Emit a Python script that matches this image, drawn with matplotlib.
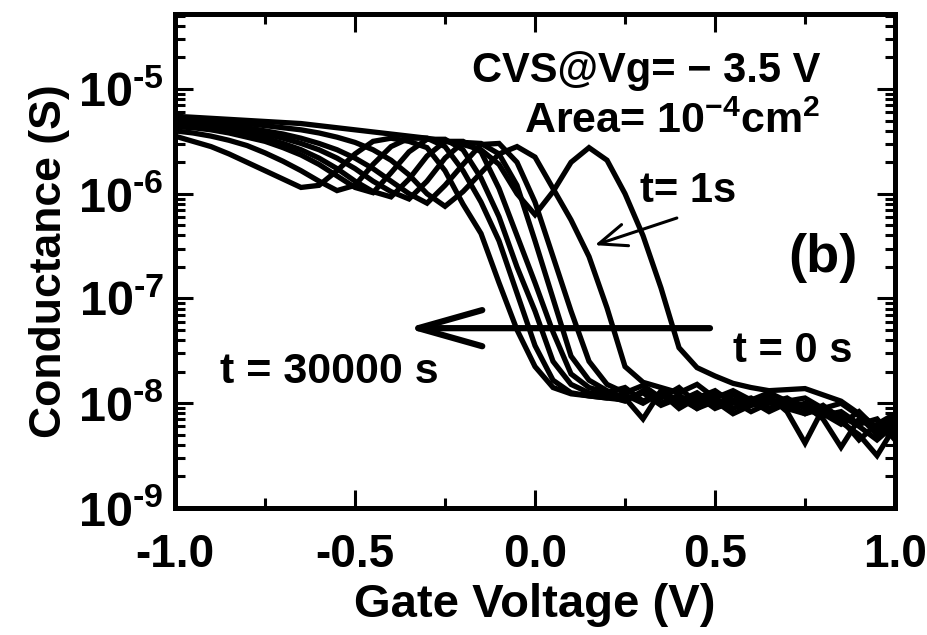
import matplotlib
matplotlib.use("Agg")
import matplotlib.pyplot as plt
import numpy as np
from matplotlib.ticker import LogLocator, NullFormatter, MultipleLocator

# Gate voltage sweep (V)
vg = np.linspace(-1.0, 1.0, 41)

# log10 of conductance (S), one list per stress time
logG_0s = [-5.26, -5.27, -5.28, -5.29, -5.30, -5.31, -5.32, -5.33, -5.35, -5.37,
           -5.39, -5.41, -5.43, -5.45, -5.47, -5.50, -5.53, -5.58, -5.72, -6.00,
           -6.20, -5.98, -5.70, -5.56, -5.68, -6.00, -6.40, -6.90, -7.47, -7.66,
           -7.74, -7.81, -7.85, -7.88, -7.87, -7.86, -7.92, -7.98, -8.10, -8.23,
           -8.15]
logG_1s = [-5.28, -5.29, -5.30, -5.32, -5.33, -5.35, -5.37, -5.39, -5.42, -5.46,
           -5.51, -5.58, -5.68, -5.82, -6.00, -6.12, -5.98, -5.80, -5.62, -5.55,
           -5.65, -5.95, -6.25, -6.60, -7.09, -7.65, -7.80, -7.85, -7.90, -7.82,
           -7.95, -7.88, -7.97, -7.90, -7.98, -7.95, -8.05, -8.00, -8.12, -8.30,
           -8.20]
logG_t2 = [-5.30, -5.31, -5.33, -5.35, -5.37, -5.40, -5.43, -5.47, -5.52, -5.58,
           -5.66, -5.76, -5.88, -6.00, -6.09, -5.92, -5.72, -5.53, -5.52, -5.70,
           -6.08, -6.60, -7.12, -7.60, -7.82, -7.90, -7.83, -7.95, -7.85, -8.00,
           -7.90, -7.97, -8.02, -7.95, -8.05, -8.00, -8.10, -8.20, -8.08, -8.25,
           -8.15]
logG_t3 = [-5.32, -5.33, -5.35, -5.37, -5.40, -5.43, -5.47, -5.52, -5.58, -5.66,
           -5.76, -5.88, -5.98, -6.05, -5.88, -5.66, -5.51, -5.52, -5.62, -5.92,
           -6.45, -7.00, -7.55, -7.78, -7.88, -7.95, -8.15, -7.88, -7.98, -7.90,
           -8.02, -7.92, -8.00, -7.93, -8.08, -8.38, -8.05, -8.12, -8.22, -8.35,
           -8.20]
logG_t4 = [-5.34, -5.35, -5.37, -5.40, -5.43, -5.47, -5.52, -5.58, -5.66, -5.76,
           -5.88, -5.98, -6.03, -5.86, -5.64, -5.50, -5.50, -5.60, -5.95, -6.40,
           -6.85, -7.32, -7.72, -7.85, -7.90, -7.85, -7.98, -7.90, -8.05, -7.95,
           -7.88, -8.00, -7.95, -8.05, -7.98, -8.02, -8.15, -8.42, -8.15, -8.25,
           -8.30]
logG_t5 = [-5.36, -5.37, -5.39, -5.42, -5.46, -5.50, -5.56, -5.63, -5.72, -5.83,
           -5.94, -5.99, -5.80, -5.60, -5.48, -5.48, -5.58, -5.85, -6.22, -6.70,
           -7.12, -7.60, -7.82, -7.90, -7.93, -7.98, -7.88, -8.00, -7.92, -8.05,
           -7.95, -8.05, -7.98, -8.08, -8.00, -8.10, -8.05, -8.18, -8.30, -8.50,
           -8.22]
logG_t6 = [-5.40, -5.42, -5.45, -5.49, -5.54, -5.61, -5.69, -5.78, -5.88, -5.97,
           -5.92, -5.72, -5.55, -5.47, -5.47, -5.55, -5.78, -6.08, -6.45, -6.95,
           -7.45, -7.78, -7.90, -7.93, -7.95, -7.92, -8.00, -7.90, -8.02, -7.93,
           -8.05, -7.98, -8.08, -8.00, -7.95, -8.05, -8.12, -8.08, -8.20, -8.15,
           -8.35]
logG_30000s = [-5.45, -5.50, -5.55, -5.62, -5.70, -5.78, -5.86, -5.94, -5.92, -5.78,
               -5.62, -5.50, -5.47, -5.50, -5.56, -5.78, -6.10, -6.38, -6.85, -7.30,
               -7.65, -7.85, -7.91, -7.93, -7.95, -7.97, -7.90, -8.02, -7.95, -8.05,
               -7.98, -8.10, -8.02, -7.98, -8.05, -8.10, -8.02, -8.15, -8.35, -8.20,
               -8.10]

curves = [logG_0s, logG_1s, logG_t2, logG_t3, logG_t4, logG_t5, logG_t6, logG_30000s]

xticks = [-1.0, -0.5, 0.0, 0.5, 1.0]
xticklabels = ["-1.0", "-0.5", "0.0", "0.5", "1.0"]
yticks = [1e-9, 1e-8, 1e-7, 1e-6, 1e-5]
yticklabels = [r"$10^{\text{-}9}$", r"$10^{\text{-}8}$", r"$10^{\text{-}7}$",
               r"$10^{\text{-}6}$", r"$10^{\text{-}5}$"]

plt.rcParams['font.family'] = 'Liberation Sans'
plt.rcParams['font.weight'] = 'bold'
plt.rcParams['mathtext.fontset'] = 'custom'
plt.rcParams['mathtext.rm'] = 'Liberation Sans:bold'
plt.rcParams['mathtext.it'] = 'Liberation Sans:bold'
plt.rcParams['mathtext.bf'] = 'Liberation Sans:bold'
plt.rcParams['mathtext.default'] = 'rm'

fig = plt.figure(figsize=(9.27, 6.35), dpi=100)
ax = fig.add_axes([0.1888, 0.2, 0.7767, 0.778])

for lg in curves:
    ax.plot(vg, 10 ** np.array(lg), color='black', lw=3.8, solid_joinstyle='miter')

ax.set_yscale('log')
ax.set_xlim(-1.0, 1.0)
ax.set_ylim(1e-9, 5.2e-5)

ax.set_xticks(xticks)
ax.set_xticklabels(xticklabels)
ax.xaxis.set_minor_locator(MultipleLocator(0.25))
ax.set_yticks(yticks)
ax.set_yticklabels(yticklabels)
ax.yaxis.set_minor_locator(LogLocator(base=10, subs=np.arange(2, 10)))
ax.yaxis.set_minor_formatter(NullFormatter())

ax.tick_params(which='both', direction='in', top=True, right=True, width=2.2)
ax.tick_params(which='major', length=13)
ax.tick_params(which='minor', length=7)
ax.tick_params(axis='x', which='major', labelsize=33, pad=18)
ax.tick_params(axis='y', which='major', labelsize=35, pad=8)
for sp in ax.spines.values():
    sp.set_linewidth(3.6)

ax.set_xlabel("Gate Voltage (V)", fontsize=34, fontweight='bold', labelpad=4)
ax.set_ylabel("Conductance (S)", fontsize=32, fontweight='bold', labelpad=6)

# annotations
ax.text(0.896, 0.862, "CVS@Vg= \u2212 3.5 V", transform=ax.transAxes,
        fontsize=30, fontweight='bold', ha='right', va='baseline')
ax.text(0.896, 0.760, r"Area= 10$^{-4}$cm$^{2}$", transform=ax.transAxes,
        fontsize=31, fontweight='bold', ha='right', va='baseline')
ax.text(0.646, 0.619, "t= 1s", transform=ax.transAxes,
        fontsize=30, fontweight='bold', ha='left', va='baseline')
ax.text(0.852, 0.506, "(b)", transform=ax.transAxes,
        fontsize=39, fontweight='bold', ha='left', va='center')
ax.text(0.775, 0.2955, "t = 0 s", transform=ax.transAxes,
        fontsize=30, fontweight='bold', ha='left', va='baseline')
ax.text(0.063, 0.2535, "t = 30000 s", transform=ax.transAxes,
        fontsize=31, fontweight='bold', ha='left', va='baseline')

ax.annotate("", xy=(0.322, 0.364), xytext=(0.743, 0.364),
            xycoords='axes fraction', textcoords='axes fraction',
            arrowprops=dict(arrowstyle='->,head_length=0.46,head_width=0.13',
                            lw=4.5, color='black', mutation_scale=100,
                            shrinkA=0, shrinkB=0))
ax.annotate("", xy=(0.583, 0.532), xytext=(0.697, 0.587),
            xycoords='axes fraction', textcoords='axes fraction',
            arrowprops=dict(arrowstyle='->,head_length=0.2,head_width=0.08',
                            lw=2.2, color='black', mutation_scale=100,
                            shrinkA=0, shrinkB=0))

fig.savefig("out.png", dpi=100)
